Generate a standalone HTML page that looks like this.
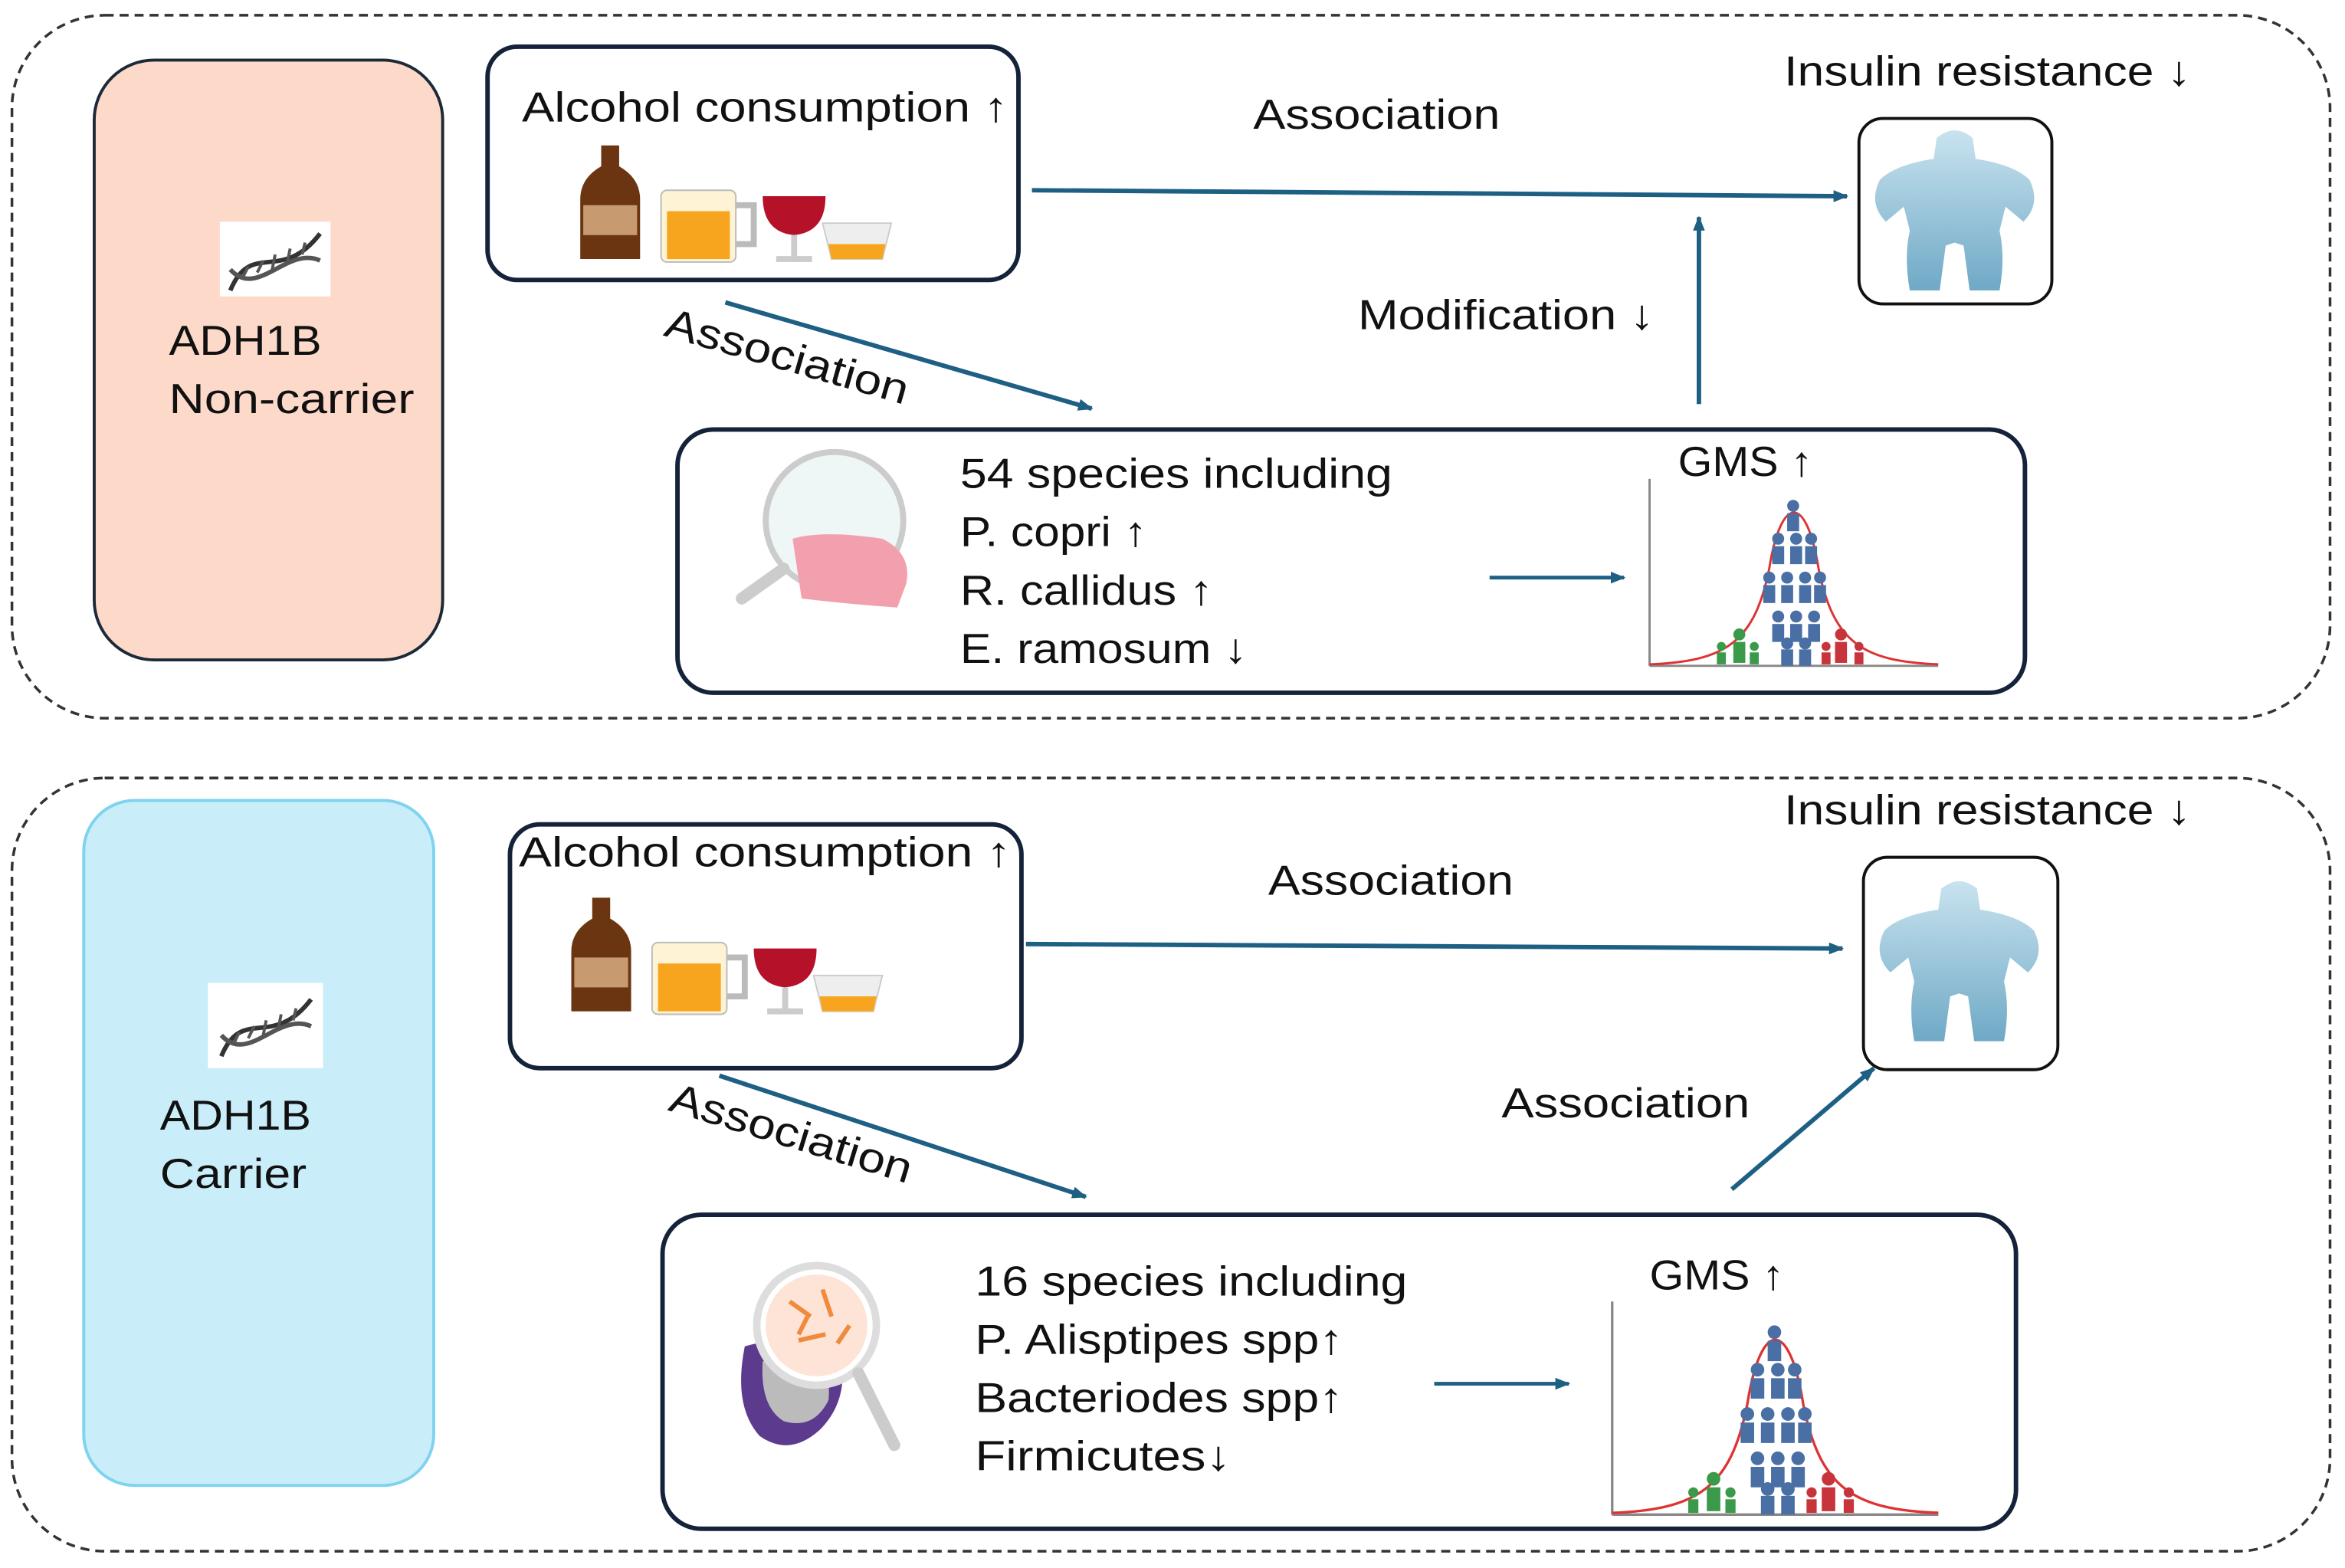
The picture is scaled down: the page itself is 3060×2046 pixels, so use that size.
<!DOCTYPE html>
<html><head><meta charset="utf-8"><style>
html,body{margin:0;padding:0;background:#fff;}
svg{display:block;}
text{font-family:"Liberation Sans",sans-serif;fill:#111;}
</style></head><body>
<svg width="3060" height="2046" viewBox="0 0 1568 1048" xmlns="http://www.w3.org/2000/svg">
<defs>
<marker id="ah" markerWidth="10" markerHeight="8" refX="9" refY="4" orient="auto" markerUnits="userSpaceOnUse"><path d="M0,0 L10,4 L0,8 Z" fill="#1e5f84"/></marker>
<linearGradient id="bodyg" x1="0" y1="0" x2="0" y2="1"><stop offset="0" stop-color="#c9e3ef"/><stop offset="1" stop-color="#6fa9c6"/></linearGradient>
<g id="body">
<path d="M-12,-52 Q0,-62 12,-52 L14,-38 Q40,-34 50,-24 Q58,-8 46,4 L34,-6 L30,10 Q34,28 30,50 L10,50 L6,20 L0,18 L-6,20 L-10,50 L-30,50 Q-34,28 -30,10 L-34,-6 L-46,4 Q-58,-8 -50,-24 Q-40,-34 -14,-38 Z" fill="url(#bodyg)"/>
</g>
<g id="drinks">
<path d="M10,0 h12 v14 q14,8 14,22 v40 h-40 v-40 q0,-14 14,-22z" fill="#6b3512"/>
<rect x="-2" y="40" width="36" height="20" fill="#c89a70"/>
<rect x="50" y="30" width="50" height="48" rx="4" fill="#fff3d6" stroke="#bbb"/>
<rect x="54" y="44" width="42" height="32" fill="#f7a51e"/>
<path d="M100,40 h12 v26 h-12" fill="none" stroke="#bbb" stroke-width="4"/>
<path d="M118,34 h42 q0,24 -21,26 q-21,-2 -21,-26z" fill="#b5122a"/>
<rect x="137" y="60" width="4" height="16" fill="#ccc"/><rect x="127" y="74" width="24" height="4" fill="#ccc"/>
<path d="M158,52 h46 l-6,24 h-34z" fill="#eee" stroke="#ccc"/><path d="M162,66 h38 l-2,10 h-34z" fill="#f7a51e"/>
</g>
<g id="dna">
<path d="M6,44 C20,10 40,40 66,6" stroke="#333" stroke-width="3" fill="none"/>
<path d="M6,30 C24,50 44,14 66,24" stroke="#555" stroke-width="3" fill="none"/>
<path d="M14,36 l4,-8 M24,32 l4,-8 M34,30 l2,-10 M44,26 l2,-10 M54,20 l2,-8" stroke="#555" stroke-width="2"/>
</g>
<g id="chart">
<line x1="0" y1="0" x2="0" y2="125" stroke="#888" stroke-width="1.5"/>
<line x1="0" y1="125" x2="193" y2="125" stroke="#888" stroke-width="1.5"/>
<path d="M0,124 C50,122 70,110 80,60 C88,10 105,10 113,60 C123,110 143,122 193,124" fill="none" stroke="#d33" stroke-width="1.5"/>
<g fill="#4a6fa5">
<circle cx="96" cy="18" r="4"/><rect x="92" y="23" width="8" height="12"/>
<circle cx="86" cy="40" r="4"/><rect x="82" y="45" width="8" height="12"/>
<circle cx="98" cy="40" r="4"/><rect x="94" y="45" width="8" height="12"/>
<circle cx="108" cy="40" r="4"/><rect x="104" y="45" width="8" height="12"/>
<circle cx="80" cy="66" r="4"/><rect x="76" y="71" width="8" height="12"/>
<circle cx="92" cy="66" r="4"/><rect x="88" y="71" width="8" height="12"/>
<circle cx="104" cy="66" r="4"/><rect x="100" y="71" width="8" height="12"/>
<circle cx="114" cy="66" r="4"/><rect x="110" y="71" width="8" height="12"/>
<circle cx="86" cy="92" r="4"/><rect x="82" y="97" width="8" height="12"/>
<circle cx="98" cy="92" r="4"/><rect x="94" y="97" width="8" height="12"/>
<circle cx="110" cy="92" r="4"/><rect x="106" y="97" width="8" height="12"/>
<circle cx="92" cy="110" r="4"/><rect x="88" y="114" width="8" height="11"/>
<circle cx="104" cy="110" r="4"/><rect x="100" y="114" width="8" height="11"/>
</g>
<g fill="#3b9a4a"><circle cx="60" cy="104" r="4"/><rect x="56" y="109" width="8" height="14"/><circle cx="48" cy="112" r="3"/><rect x="45" y="116" width="6" height="8"/><circle cx="70" cy="112" r="3"/><rect x="67" y="116" width="6" height="8"/></g>
<g fill="#c8343b"><circle cx="128" cy="104" r="4"/><rect x="124" y="109" width="8" height="14"/><circle cx="140" cy="112" r="3"/><rect x="137" y="116" width="6" height="8"/><circle cx="118" cy="112" r="3"/><rect x="115" y="116" width="6" height="8"/></g>
</g>
</defs>

<!-- TOP PANEL -->
<rect x="8" y="10" width="1550" height="470" rx="62" fill="none" stroke="#333" stroke-width="1.8" stroke-dasharray="6,4"/>
<rect x="63" y="40" width="233" height="401" rx="40" fill="#fcd9c9" stroke="#1c2a38" stroke-width="2"/>
<rect x="147" y="148" width="74" height="50" fill="#fff"/>
<use href="#dna" x="148" y="150"/>
<text x="113" y="237" font-size="28" textLength="102" lengthAdjust="spacingAndGlyphs">ADH1B</text>
<text x="113" y="276" font-size="28" textLength="164" lengthAdjust="spacingAndGlyphs">Non-carrier</text>

<rect x="326" y="31" width="355" height="156" rx="20" fill="#fff" stroke="#14233a" stroke-width="3"/>
<text x="349" y="81" font-size="28" textLength="325" lengthAdjust="spacingAndGlyphs">Alcohol consumption ↑</text>
<use href="#drinks" x="392" y="97"/>
<line x1="690" y1="127" x2="1235" y2="131" stroke="#1e5f84" stroke-width="3" marker-end="url(#ah)"/>
<text x="838" y="86" font-size="28" textLength="165" lengthAdjust="spacingAndGlyphs">Association</text>
<text x="1193" y="57" font-size="28" textLength="272" lengthAdjust="spacingAndGlyphs">Insulin resistance ↓</text>
<rect x="1243" y="79" width="129" height="124" rx="16" fill="#fff" stroke="#111" stroke-width="2"/>
<use href="#body" x="1307" y="144"/>
<line x1="1136" y1="270" x2="1136" y2="145" stroke="#1e5f84" stroke-width="3" marker-end="url(#ah)"/>
<text x="908" y="220" font-size="28" textLength="198" lengthAdjust="spacingAndGlyphs">Modification ↓</text>
<line x1="485" y1="202" x2="730" y2="273" stroke="#1e5f84" stroke-width="3" marker-end="url(#ah)"/>
<text x="0" y="0" font-size="28" textLength="168" lengthAdjust="spacingAndGlyphs" transform="translate(443,224) rotate(16)">Association</text>

<rect x="453" y="287" width="901" height="176" rx="24" fill="#fff" stroke="#14233a" stroke-width="3"/>
<circle cx="558" cy="348" r="46" fill="#eef6f6" stroke="#ccc" stroke-width="4"/>
<path d="M530,360 q20,-6 60,0 q20,10 16,30 l-6,16 q-30,-2 -64,-6z" fill="#f2a0ae"/>
<line x1="524" y1="380" x2="496" y2="400" stroke="#ccc" stroke-width="8" stroke-linecap="round"/>
<text x="642" y="326" font-size="28" textLength="289" lengthAdjust="spacingAndGlyphs">54 species including</text>
<text x="642" y="365" font-size="28" textLength="125" lengthAdjust="spacingAndGlyphs">P. copri ↑</text>
<text x="642" y="404" font-size="28" textLength="169" lengthAdjust="spacingAndGlyphs">R. callidus ↑</text>
<text x="642" y="443" font-size="28" textLength="192" lengthAdjust="spacingAndGlyphs">E. ramosum ↓</text>
<line x1="996" y1="386" x2="1086" y2="386" stroke="#1e5f84" stroke-width="2.5" marker-end="url(#ah)"/>
<text x="1122" y="318" font-size="28" textLength="90" lengthAdjust="spacingAndGlyphs">GMS ↑</text>
<use href="#chart" x="1103" y="320"/>

<!-- BOTTOM PANEL -->
<rect x="8" y="520" width="1550" height="517" rx="62" fill="none" stroke="#333" stroke-width="1.8" stroke-dasharray="6,4"/>
<rect x="56" y="535" width="234" height="458" rx="34" fill="#c9eefa" stroke="#7fd3ee" stroke-width="2"/>
<rect x="139" y="657" width="77" height="57" fill="#fff"/>
<use href="#dna" x="142" y="662"/>
<text x="107" y="755" font-size="28" textLength="101" lengthAdjust="spacingAndGlyphs">ADH1B</text>
<text x="107" y="794" font-size="28" textLength="98" lengthAdjust="spacingAndGlyphs">Carrier</text>

<rect x="341" y="551" width="342" height="163" rx="20" fill="#fff" stroke="#14233a" stroke-width="3"/>
<text x="347" y="579" font-size="28" textLength="329" lengthAdjust="spacingAndGlyphs">Alcohol consumption ↑</text>
<use href="#drinks" x="386" y="600"/>
<line x1="686" y1="631" x2="1232" y2="634" stroke="#1e5f84" stroke-width="3" marker-end="url(#ah)"/>
<text x="848" y="598" font-size="28" textLength="164" lengthAdjust="spacingAndGlyphs">Association</text>
<text x="1193" y="551" font-size="28" textLength="272" lengthAdjust="spacingAndGlyphs">Insulin resistance ↓</text>
<rect x="1246" y="573" width="130" height="142" rx="16" fill="#fff" stroke="#111" stroke-width="2"/>
<use href="#body" x="1310" y="646"/>
<line x1="481" y1="719" x2="726" y2="800" stroke="#1e5f84" stroke-width="3" marker-end="url(#ah)"/>
<text x="0" y="0" font-size="28" textLength="168" lengthAdjust="spacingAndGlyphs" transform="translate(446,742) rotate(17)">Association</text>
<line x1="1158" y1="795" x2="1253" y2="714" stroke="#1e5f84" stroke-width="3" marker-end="url(#ah)"/>
<text x="1004" y="747" font-size="28" textLength="166" lengthAdjust="spacingAndGlyphs">Association</text>

<rect x="443" y="812" width="905" height="210" rx="26" fill="#fff" stroke="#14233a" stroke-width="3"/>
<path d="M498,900 q-8,40 10,60 q20,14 40,-4 q20,-20 14,-50 q-30,-16 -64,-6z" fill="#5c3a8e"/>
<path d="M510,910 q-2,30 14,40 q20,6 30,-14 q2,-20 -10,-30z" fill="#bbb"/>
<circle cx="546" cy="886" r="40" fill="#fff" stroke="#ddd" stroke-width="5"/>
<circle cx="546" cy="886" r="34" fill="#fde4d6"/>
<path d="M528,870 l14,10 M550,862 l6,18 M534,896 l18,-4 M560,898 l8,-12 M540,880 l-6,12" stroke="#f08a3c" stroke-width="3"/>
<line x1="574" y1="918" x2="598" y2="966" stroke="#ccc" stroke-width="8" stroke-linecap="round"/>
<text x="652" y="866" font-size="28" textLength="289" lengthAdjust="spacingAndGlyphs">16 species including</text>
<text x="652" y="905" font-size="28" textLength="246" lengthAdjust="spacingAndGlyphs">P. Alisptipes spp↑</text>
<text x="652" y="944" font-size="28" textLength="246" lengthAdjust="spacingAndGlyphs">Bacteriodes spp↑</text>
<text x="652" y="983" font-size="28" textLength="171" lengthAdjust="spacingAndGlyphs">Firmicutes↓</text>
<line x1="959" y1="925" x2="1049" y2="925" stroke="#1e5f84" stroke-width="2.5" marker-end="url(#ah)"/>
<text x="1103" y="862" font-size="28" textLength="90" lengthAdjust="spacingAndGlyphs">GMS ↑</text>
<g transform="translate(1078,870) scale(1.13,1.14)"><use href="#chart"/></g>
</svg>
</body></html>
